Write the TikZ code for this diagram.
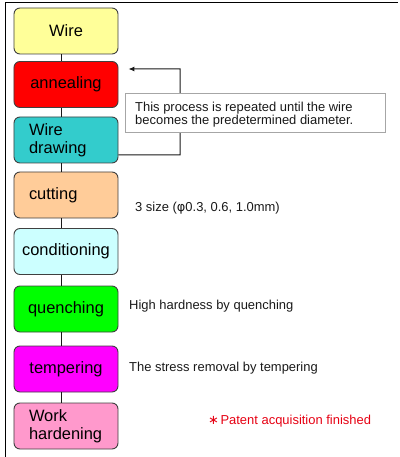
\documentclass[tikz,border=0pt]{standalone}
\usepackage{fontspec}
\setmainfont{Liberation Sans}
\newfontfamily\symfont{DejaVu Sans}
\usetikzlibrary{arrows.meta}
\definecolor{cWire}{HTML}{FFFF99}
\definecolor{cAnn}{HTML}{FF0000}
\definecolor{cDraw}{HTML}{33CCCC}
\definecolor{cCut}{HTML}{FFCC99}
\definecolor{cCond}{HTML}{CCFFFF}
\definecolor{cQuen}{HTML}{00FF00}
\definecolor{cTemp}{HTML}{FF00FF}
\definecolor{cWork}{HTML}{FF99CC}
\definecolor{boxline}{HTML}{404040}
\definecolor{noteline}{HTML}{A6A6A6}
\definecolor{redtext}{HTML}{E60012}
\tikzset{
  stepbox/.style={draw=boxline, line width=0.9bp, rounded corners=6bp,
    minimum width=104bp, minimum height=46bp, inner sep=0pt,
    font=\fontsize{16.5}{18}\selectfont, align=center},
  leftbox/.style={stepbox, text width=74bp, inner xsep=15bp, align=left},
  conn/.style={draw=black!90, line width=1bp},
  note/.style={font=\fontsize{13}{13}\selectfont, anchor=west, inner sep=0pt, text=black!90},
}
\begin{document}
\begin{tikzpicture}[x=1bp,y=-1bp]
\useasboundingbox (0,0) rectangle (399,457);
% frame
\draw[line width=1.7bp] (5.5,457) -- (5.5,2.5) -- (398,2.5);
% boxes
\node[stepbox, fill=cWire] (wire) at (66,31) {Wire};
\node[stepbox, fill=cAnn] (ann) at (66,84.5) {annealing};
\node[leftbox, fill=cDraw] (wd) at (66,140) {Wire\\drawing};
\node[leftbox, fill=cCut] (cut) at (66,195) {cutting};
\node[stepbox, fill=cCond] (cond) at (66,251.5) {conditioning};
\node[stepbox, fill=cQuen] (quen) at (66,309) {quenching};
\node[stepbox, fill=cTemp] (temp) at (66,369) {tempering};
\node[leftbox, fill=cWork] (work) at (66,426) {Work\\hardening};
% connectors
\foreach \a/\b in {wire/ann, ann/wd, wd/cut, cut/cond, cond/quen, quen/temp, temp/work}
  \draw[conn] ([xshift=-5bp]\a.south) -- ([xshift=-5bp]\b.north);
% feedback loop
\coordinate (fbA) at (180,155);
\draw[conn, -{Latex[length=6bp,width=5bp]}] ([yshift=-15bp]wd.east) -- (fbA) |- ([xshift=10bp,yshift=15.5bp]ann.east);
% note box
\node[draw=noteline, fill=white, line width=0.8bp, minimum width=260bp, minimum height=39bp, anchor=north west, inner sep=0pt] (nb) at (125,93) {};
\node[note, align=left, font=\fontsize{13}{12.5}\selectfont] (nt) at (135,114.5) {This process is repeated until the wire\\becomes the predetermined diameter.};
% side notes
\node[note] (n1) at (135,208) {3 size (\symfont φ\rmfamily0.3, 0.6, 1.0mm)};
\node[note] (n2) at (129,306) {High hardness by quenching};
\node[note] (n3) at (129,368) {The stress removal by tempering};
\node[note, text=redtext] (n4) at (208,421) {{\symfont\fontsize{13}{13}\selectfont ∗}\hspace{1.5bp}Patent acquisition finished};
\end{tikzpicture}
\end{document}
